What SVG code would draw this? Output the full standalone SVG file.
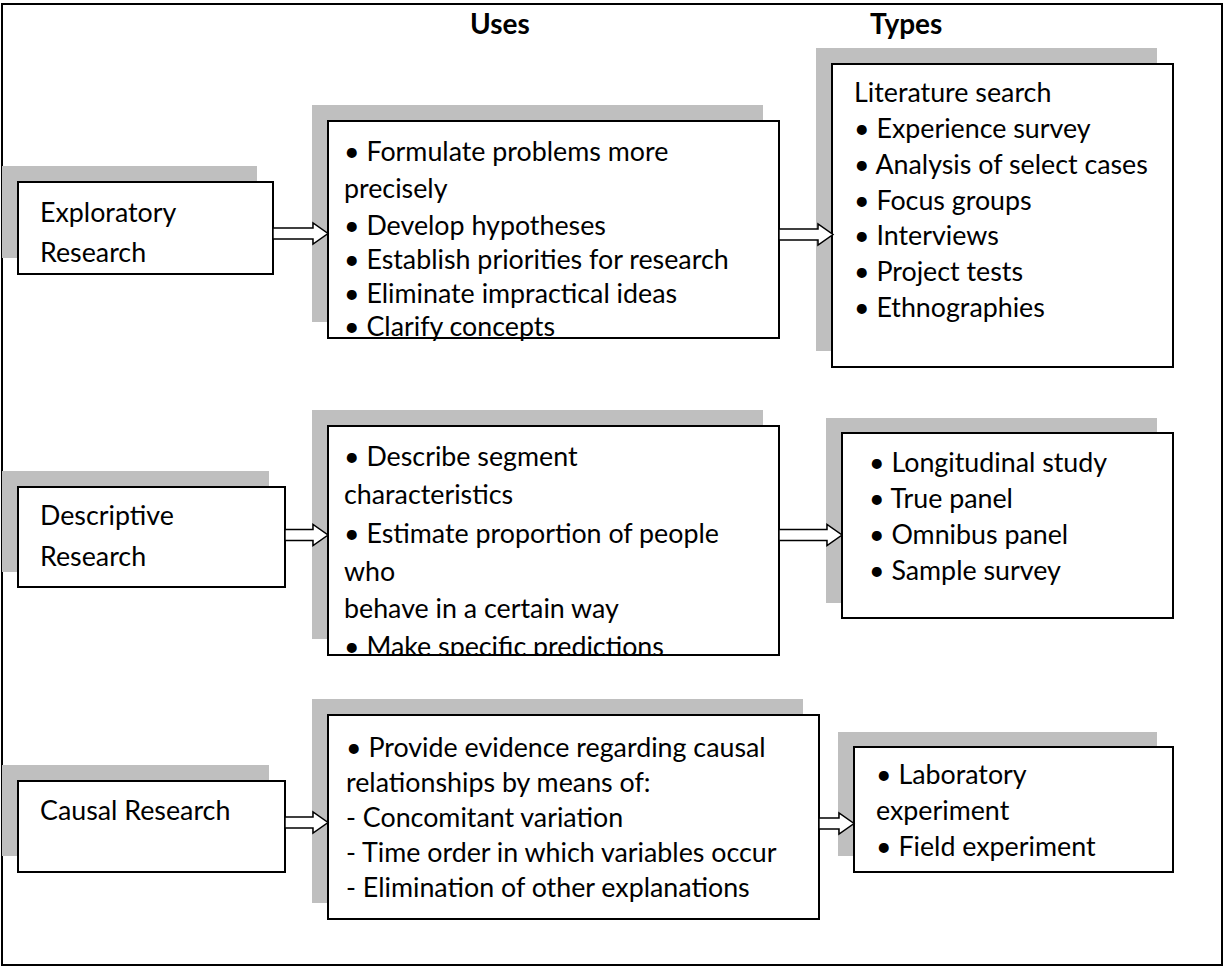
<svg xmlns="http://www.w3.org/2000/svg" width="1224" height="967" viewBox="0 0 1224 967">
  <style>
    .frame { fill: #ffffff; stroke: #000000; stroke-width: 2; }
    .shadow { fill: #bfbfbf; stroke: none; }
    .box { fill: #ffffff; stroke: #000000; stroke-width: 2; }
    .arrow { fill: #ffffff; stroke: #000000; stroke-width: 1.5; stroke-linejoin: miter; }
    text { font-family: Lato, "Open Sans", "Liberation Sans", sans-serif; font-size: 26.8px; fill: #000000; }
    .head { font-weight: bold; font-size: 28px; }
  </style>
  <defs>
    <clipPath id="clip-uses-desc">
      <rect x="329" y="427" width="449" height="227"/>
    </clipPath>
  </defs>

  <!-- outer frame -->
  <rect class="frame" x="2" y="4" width="1220" height="961"/>

  <!-- column headings -->
  <text class="head" x="470" y="34">Uses</text>
  <text class="head" x="870" y="34">Types</text>

  <!-- row 1: exploratory -->
  <g id="exploratory">
    <rect class="shadow" x="2" y="166" width="255" height="92"/>
    <rect class="box" x="18" y="182" width="255" height="92"/>
    <text x="40" y="222">Exploratory</text>
    <text x="40" y="262">Research</text>
  </g>
  <g id="uses-exploratory">
    <rect class="shadow" x="312" y="105" width="451" height="217"/>
    <rect class="box" x="328" y="121" width="451" height="217"/>
    <text x="344" y="161">• Formulate problems more</text>
    <text x="344" y="198">precisely</text>
    <text x="344" y="235">• Develop hypotheses</text>
    <text x="344" y="269">• Establish priorities for research</text>
    <text x="344" y="303">• Eliminate impractical ideas</text>
    <text x="344" y="336">• Clarify concepts</text>
  </g>
  <g id="types-exploratory">
    <rect class="shadow" x="816" y="48" width="341" height="303"/>
    <rect class="box" x="832" y="64" width="341" height="303"/>
    <text x="854" y="102">Literature search</text>
    <text x="854" y="138">• Experience survey</text>
    <text x="854" y="174">• Analysis of select cases</text>
    <text x="854" y="210">• Focus groups</text>
    <text x="854" y="245">• Interviews</text>
    <text x="854" y="281">• Project tests</text>
    <text x="854" y="317">• Ethnographies</text>
  </g>

  <!-- row 2: descriptive -->
  <g id="descriptive">
    <rect class="shadow" x="2" y="471" width="267" height="101"/>
    <rect class="box" x="18" y="487" width="267" height="100"/>
    <text x="40" y="525">Descriptive</text>
    <text x="40" y="566">Research</text>
  </g>
  <g id="uses-descriptive">
    <rect class="shadow" x="312" y="410" width="451" height="229"/>
    <rect class="box" x="328" y="426" width="451" height="229"/>
    <g clip-path="url(#clip-uses-desc)">
      <text x="344" y="466">• Describe segment</text>
      <text x="344" y="504">characteristics</text>
      <text x="344" y="543">• Estimate proportion of people</text>
      <text x="344" y="581">who</text>
      <text x="344" y="618">behave in a certain way</text>
      <text x="344" y="656">• Make specific predictions</text>
    </g>
  </g>
  <g id="types-descriptive">
    <rect class="shadow" x="826" y="418" width="331" height="185"/>
    <rect class="box" x="842" y="433" width="331" height="185"/>
    <text x="869" y="472">• Longitudinal study</text>
    <text x="869" y="508">• True panel</text>
    <text x="869" y="544">• Omnibus panel</text>
    <text x="869" y="580">• Sample survey</text>
  </g>

  <!-- row 3: causal -->
  <g id="causal">
    <rect class="shadow" x="2" y="765" width="267" height="91"/>
    <rect class="box" x="18" y="781" width="267" height="91"/>
    <text x="40" y="820">Causal Research</text>
  </g>
  <g id="uses-causal">
    <rect class="shadow" x="312" y="699" width="491" height="204"/>
    <rect class="box" x="328" y="715" width="491" height="204"/>
    <text x="346" y="757">• Provide evidence regarding causal</text>
    <text x="346" y="792">relationships by means of:</text>
    <text x="346" y="827">- Concomitant variation</text>
    <text x="346" y="862">- Time order in which variables occur</text>
    <text x="346" y="897">- Elimination of other explanations</text>
  </g>
  <g id="types-causal">
    <rect class="shadow" x="838" y="732" width="319" height="124"/>
    <rect class="box" x="854" y="747" width="319" height="125"/>
    <text x="876" y="784">• Laboratory</text>
    <text x="876" y="820">experiment</text>
    <text x="876" y="856">• Field experiment</text>
  </g>

  <!-- block arrows -->
  <g id="connectors">
    <polygon class="arrow" points="273,228 313,228 313,223 328,233.5 313,244 313,239 273,239"/>
    <polygon class="arrow" points="779,229 818,229 818,224 833,234.5 818,245 818,240 779,240"/>
    <polygon class="arrow" points="285,529.5 313,529.5 313,524.5 328,535 313,545.5 313,540.5 285,540.5"/>
    <polygon class="arrow" points="779,529.5 827,529.5 827,524.5 842,535 827,545.5 827,540.5 779,540.5"/>
    <polygon class="arrow" points="285,817 313,817 313,812 328,822.5 313,833 313,828 285,828"/>
    <polygon class="arrow" points="819,818 839,818 839,813 854,823.5 839,834 839,829 819,829"/>
  </g>
</svg>
